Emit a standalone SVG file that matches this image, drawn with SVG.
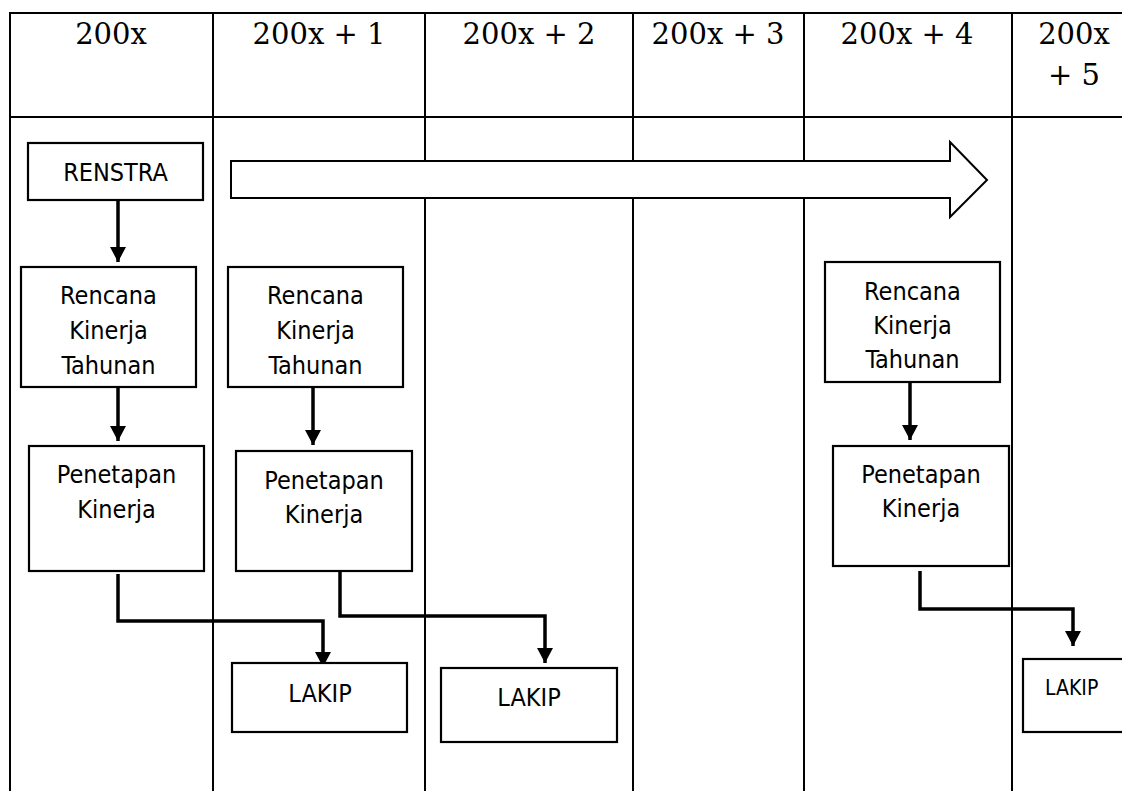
<svg xmlns="http://www.w3.org/2000/svg" width="1122" height="791" viewBox="0 0 1122 791">
<style>
.grid{stroke:#000;stroke-width:2;fill:none}
.hdr{font-family:"DejaVu Serif","Liberation Serif",serif;font-size:29px;fill:#000;text-anchor:middle}
.box{fill:#fff;stroke:#000;stroke-width:2.2}
.lbl{font-family:"DejaVu Sans Condensed","DejaVu Sans","Liberation Sans",sans-serif;font-stretch:condensed;font-size:25px;fill:#000;text-anchor:middle}
.con{fill:none;stroke:#000;stroke-width:3.5;marker-end:url(#ah)}
</style>
<defs>
<marker id="ah" markerUnits="userSpaceOnUse" markerWidth="16" markerHeight="16" refX="15" refY="8" orient="auto" viewBox="0 0 16 16">
<path d="M0,0 L15,8 L0,16 z" fill="#000"/>
</marker>
</defs>
<rect width="1122" height="791" fill="#fff"/>
<g id="table">
<path class="grid" d="M10,791 V13 H1122 M10,117 H1122 M213,13 V791 M425,13 V791 M633,13 V791 M804,13 V791 M1012,13 V791"/>
<text class="hdr" x="111" y="44">200x</text>
<text class="hdr" x="319" y="44">200x + 1</text>
<text class="hdr" x="529" y="44">200x + 2</text>
<text class="hdr" x="718" y="44">200x + 3</text>
<text class="hdr" x="907" y="44">200x + 4</text>
<text class="hdr" x="1074" y="44">200x</text>
<text class="hdr" x="1074" y="85">+ 5</text>
</g>
<g id="timeline-arrow">
<path d="M231,161 H950 V142 L987,180 L950,217 V198 H231 Z" fill="#fff" stroke="#000" stroke-width="2"/>
</g>
<g id="connectors">
<path class="con" d="M118,200 V262"/>
<path class="con" d="M118,382 V441"/>
<path class="con" d="M313,387 V445"/>
<path class="con" d="M910,382 V440"/>
<path class="con" d="M118,574 V621 H323 V667"/>
<path class="con" d="M340,571 V616 H545 V663"/>
<path class="con" d="M920,571 V609 H1073 V646"/>
</g>
<g id="renstra">
<rect class="box" x="28" y="143" width="175" height="57"/>
<text class="lbl" x="115.5" y="181">RENSTRA</text>
</g>
<g id="rkt1">
<rect class="box" x="21" y="267" width="175" height="120"/>
<text class="lbl" x="108.5" y="304">Rencana</text>
<text class="lbl" x="108.5" y="339">Kinerja</text>
<text class="lbl" x="108.5" y="374">Tahunan</text>
</g>
<g id="rkt2">
<rect class="box" x="228" y="267" width="175" height="120"/>
<text class="lbl" x="315.5" y="304">Rencana</text>
<text class="lbl" x="315.5" y="339">Kinerja</text>
<text class="lbl" x="315.5" y="374">Tahunan</text>
</g>
<g id="rkt3">
<rect class="box" x="825" y="262" width="175" height="120"/>
<text class="lbl" x="912.5" y="300">Rencana</text>
<text class="lbl" x="912.5" y="334">Kinerja</text>
<text class="lbl" x="912.5" y="368">Tahunan</text>
</g>
<g id="pk1">
<rect class="box" x="29" y="446" width="175" height="125"/>
<text class="lbl" x="116.5" y="483">Penetapan</text>
<text class="lbl" x="116.5" y="518">Kinerja</text>
</g>
<g id="pk2">
<rect class="box" x="236" y="451" width="176" height="120"/>
<text class="lbl" x="324" y="489">Penetapan</text>
<text class="lbl" x="324" y="523">Kinerja</text>
</g>
<g id="pk3">
<rect class="box" x="833" y="446" width="176" height="120"/>
<text class="lbl" x="921" y="483">Penetapan</text>
<text class="lbl" x="921" y="517">Kinerja</text>
</g>
<g id="lakip1">
<rect class="box" x="232" y="663" width="175" height="69"/>
<text class="lbl" x="320" y="702">LAKIP</text>
</g>
<g id="lakip2">
<rect class="box" x="441" y="668" width="176" height="74"/>
<text class="lbl" x="529" y="706">LAKIP</text>
</g>
<g id="lakip3">
<rect class="box" x="1023" y="659" width="110" height="73"/>
<text class="lbl" x="1045" y="695" style="text-anchor:start;font-size:21px">LAKIP</text>
</g>
</svg>
